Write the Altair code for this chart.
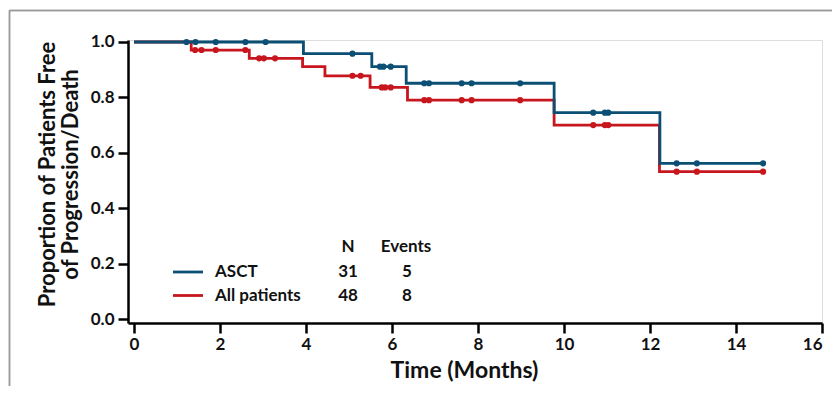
import altair as alt
import pandas as pd

# ---- data ----
asct_step_t = [0, 3.94, 5.53, 6.33, 9.77, 12.23, 14.63]
asct_step_s = [1.0, 0.958, 0.911, 0.851, 0.745, 0.562, 0.562]
asct_cens_t = [1.22, 1.43, 1.90, 2.59, 3.06, 5.08, 5.72, 5.80, 5.97,
               6.75, 6.86, 7.62, 7.85, 8.98, 10.68, 10.95, 11.03,
               12.62, 13.09, 14.63]
asct_cens_s = [1.0, 1.0, 1.0, 1.0, 1.0, 0.958, 0.911, 0.911, 0.911,
               0.851, 0.851, 0.851, 0.851, 0.851, 0.745, 0.745, 0.745,
               0.562, 0.562, 0.562]

all_step_t = [0, 1.33, 2.68, 3.92, 4.44, 5.49, 6.36, 9.77, 12.22, 14.63]
all_step_s = [1.0, 0.971, 0.941, 0.911, 0.878, 0.836, 0.79, 0.70, 0.532, 0.532]
all_cens_t = [1.42, 1.57, 1.90, 2.59, 2.91, 3.02, 3.28, 5.08, 5.27,
              5.76, 5.84, 5.97, 6.75, 6.86, 7.62, 7.85, 8.98,
              10.68, 10.95, 11.03, 12.62, 13.09, 14.63]
all_cens_s = [0.971, 0.971, 0.971, 0.971, 0.941, 0.941, 0.941, 0.878, 0.878,
              0.836, 0.836, 0.836, 0.79, 0.79, 0.79, 0.79, 0.79,
              0.70, 0.70, 0.70, 0.532, 0.532, 0.532]

groups = ["ASCT", "All patients"]
group_n = [31, 48]
group_events = [5, 8]
colors = ["#0b4f75", "#c8161e"]
legend_headers = ["N", "Events"]

x_ticks = [0, 2, 4, 6, 8, 10, 12, 14, 16]
y_ticks = [0.0, 0.2, 0.4, 0.6, 0.8, 1.0]

FONT = "Lato"

steps = pd.concat([
    pd.DataFrame({"t": asct_step_t, "s": asct_step_s, "g": "ASCT"}),
    pd.DataFrame({"t": all_step_t, "s": all_step_s, "g": "All patients"}),
])
cens = pd.concat([
    pd.DataFrame({"t": asct_cens_t, "s": asct_cens_s, "g": "ASCT"}),
    pd.DataFrame({"t": all_cens_t, "s": all_cens_s, "g": "All patients"}),
])

xscale = alt.Scale(domain=[-0.14, 16], nice=False, zero=False)
yscale = alt.Scale(domain=[-0.0144, 1.0072], nice=False, zero=False)
cscale = alt.Scale(domain=groups, range=colors)

xaxis = alt.Axis(values=x_ticks, format="d", title="Time (Months)", grid=False,
                 domainColor="black", domainWidth=2.5, tickColor="black",
                 tickWidth=2.5, tickSize=10, labelFont=FONT, labelFontSize=17,
                 labelFontWeight="bold", labelColor="#111", labelPadding=3,
                 titleFont=FONT, titleFontSize=23, titleFontWeight="bold",
                 titleColor="#111", titlePadding=7, titleX=336,
                 titleAlign="center", titleAnchor="start")
yaxis = alt.Axis(values=y_ticks, format=".1f",
                 title=["Proportion of Patients Free", "of Progression/Death"],
                 grid=False, domainColor="black", domainWidth=2.5,
                 tickColor="black", tickWidth=2.5, tickSize=10,
                 labelFont=FONT, labelFontSize=17, labelFontWeight="bold",
                 labelColor="#111", labelPadding=4,
                 titleFont=FONT, titleFontSize=22, titleFontWeight="bold",
                 titleColor="#111", titleX=-81, titleY=134,
                 titleAlign="center", titleBaseline="middle", titleLineHeight=23)

base_line = alt.Chart(steps).mark_line(interpolate="step-after", strokeWidth=2.8).encode(
    x=alt.X("t:Q", scale=xscale, axis=xaxis),
    y=alt.Y("s:Q", scale=yscale, axis=yaxis),
    color=alt.Color("g:N", scale=cscale, legend=None),
)
# draw red first, blue on top
line_red = base_line.transform_filter("datum.g == 'All patients'")
line_blue = base_line.transform_filter("datum.g == 'ASCT'")

pts = alt.Chart(cens).mark_circle(size=38, opacity=1).encode(
    x=alt.X("t:Q", scale=xscale),
    y=alt.Y("s:Q", scale=yscale),
    color=alt.Color("g:N", scale=cscale, legend=None),
)

# legend (annotation table), positioned in pixels
leg = pd.DataFrame({
    "g": groups,
    "n": [str(v) for v in group_n],
    "ev": [str(v) for v in group_events],
})
hdr = pd.DataFrame({"h": legend_headers})
txt_kw = dict(font=FONT, fontSize=17, fontWeight="bold", color="#111",
              baseline="middle")
row_y = [232, 255.5]
legend_layers = []
for i, g in enumerate(groups):
    sub = alt.Chart(leg).transform_filter(alt.datum.g == g)
    legend_layers.append(sub.mark_rule(strokeWidth=2.8, color=colors[i]).encode(
        x=alt.value(45), x2=alt.value(75), y=alt.value(row_y[i])))
    legend_layers.append(sub.mark_text(align="left", **txt_kw).encode(
        x=alt.value(87), y=alt.value(row_y[i]), text="g:N"))
    legend_layers.append(sub.mark_text(align="center", **txt_kw).encode(
        x=alt.value(220), y=alt.value(row_y[i]), text="n:N"))
    legend_layers.append(sub.mark_text(align="center", **txt_kw).encode(
        x=alt.value(279), y=alt.value(row_y[i]), text="ev:N"))
hdr_x = [220, 278]
for i, h in enumerate(legend_headers):
    legend_layers.append(alt.Chart(hdr).transform_filter(alt.datum.h == h)
                         .mark_text(align="center", **txt_kw).encode(
        x=alt.value(hdr_x[i]), y=alt.value(206.5), text="h:N"))

# frame (partial border of the original figure)
frame_top = alt.Chart(hdr).mark_rule(color="#9a9a9a", strokeWidth=1.5).encode(
    x=alt.value(-118.5), x2=alt.value(720), y=alt.value(-29.5))
frame_left = alt.Chart(hdr).mark_rule(color="#9a9a9a", strokeWidth=1.5).encode(
    x=alt.value(-118.5), y=alt.value(-29.5), y2=alt.value(360))

chart = alt.layer(
    line_red, line_blue, pts, frame_top, frame_left, *legend_layers,
).properties(
    width=694, height=283,
    autosize=alt.AutoSizeParams(type="none"),
    padding={"left": 120, "top": 32, "right": 10, "bottom": 63},
).configure_view(stroke=None).configure(background="white")

chart.save("out.html", embed_options={"renderer": "svg", "actions": False})
